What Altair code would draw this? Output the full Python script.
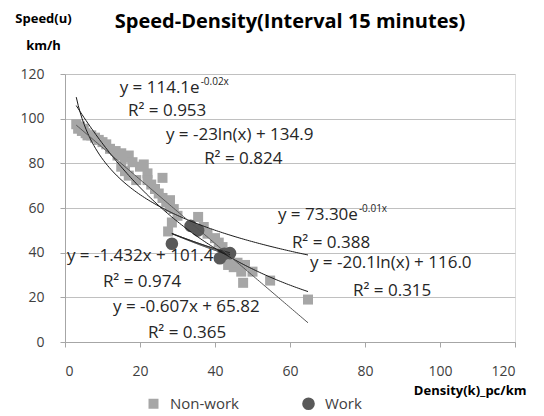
import altair as alt
import pandas as pd
import numpy as np

# ---- data ----
nonwork_density = [3, 3.5, 4, 4.5, 5, 5.5, 6, 7, 8, 9, 10, 11, 12, 13.5, 14, 15, 16, 17,
                   15, 16, 17, 18, 19, 20, 21, 22, 22, 23, 24, 25, 26, 26, 27, 28, 28, 29,
                   27.5, 28.5, 30, 35.5, 37, 38, 40, 41, 42, 43.5, 44, 45, 46, 47, 47.5, 48,
                   50, 54.7, 64.8]
nonwork_speed = [97.5, 95.5, 96.5, 94.5, 95.5, 93.5, 92.5, 92.5, 91.5, 90.5, 89.5, 88.5, 86.5,
                 85.5, 83.5, 84.5, 82.5, 83.5, 78.5, 76.5, 74.5, 80.5, 72.5, 78.5, 79.5, 75.5,
                 72.5, 70.5, 68.5, 66.5, 73.5, 64.5, 62.5, 60.5, 63.5, 59.5, 49.5, 53.5, 56.5,
                 56, 51.5, 48.5, 46.5, 44.5, 42.5, 34.5, 36.5, 33.5, 35.5, 31.5, 26.5, 34.5,
                 31.5, 27.5, 19]
work_density = [28.5, 33.5, 35.5, 41.3, 44, 42.5]
work_speed = [44, 52, 50, 37.5, 39.8, 39.5]

x_ticks = [0, 20, 40, 60, 80, 100, 120]
y_ticks = [0, 20, 40, 60, 80, 100, 120]

# trend lines: exp -> a*exp(b*x); log -> a*ln(x)+b; lin -> a*x+b
fit_series = ["Non-work", "Non-work", "Non-work", "Work", "Work", "Work"]
fit_kind = ["exp", "log", "lin", "exp", "log", "lin"]
fit_a = [114.1, -23.0, -1.432, 73.30, -20.1, -0.607]
fit_b = [-0.025, 134.9, 101.4, -0.0145, 116.0, 65.82]
fit_shade = ["dark", "dark", "mid", "dark", "dark", "dark"]

# equation labels (left-aligned)
label_text = ["R² = 0.953", "y = -23ln(x) + 134.9", "R² = 0.824",
              "R² = 0.388", "y = -20.1ln(x) + 116.0", "R² = 0.315",
              "y = -1.432x + 101.4", "R² = 0.974", "y = -0.607x + 65.82", "R² = 0.365"]
label_x = [16.8, 26.9, 37.1, 60.5, 65.3, 76.8, 0.5, 10.1, 12.8, 22.1]
label_y = [103.4, 92.7, 82.0, 44.3, 35.4, 22.8, 38.5, 26.9, 15.7, 4.0]
# exponential equations: base text ends where the exponent starts
exp_base = ["y = 114.1e", "y = 73.30e"]
exp_sup = ["-0.02x", "-0.01x"]
exp_x = [35.9, 78.1]
exp_y = [113.7, 56.9]

# ---- tables ----
pts = pd.DataFrame({
    "density": nonwork_density + work_density,
    "speed": nonwork_speed + work_speed,
    "series": ["Non-work"] * len(nonwork_density) + ["Work"] * len(work_density),
})

rows = []
for i, (s, k, a, b, shade) in enumerate(zip(fit_series, fit_kind, fit_a, fit_b, fit_shade)):
    xs = nonwork_density if s == "Non-work" else work_density
    grid = np.linspace(min(xs), max(xs), 120)
    if k == "exp":
        ys = a * np.exp(b * grid)
    elif k == "log":
        ys = a * np.log(grid) + b
    else:
        ys = a * grid + b
    for gx, gy in zip(grid, ys):
        rows.append({"fit": i, "shade": shade, "x": float(gx), "y": float(gy)})
fits = pd.DataFrame(rows)

labels = pd.DataFrame({"x": label_x, "y": label_y, "t": label_text})
exps = pd.DataFrame({"x": exp_x, "y": exp_y, "base": exp_base, "sup": exp_sup})

FONT = "Open Sans"
TXT = 17
xscale = alt.Scale(domain=[0, 120], nice=False)
yscale = alt.Scale(domain=[0, 120], nice=False)

xaxis = alt.Axis(values=x_ticks, grid=False, title="Density(k)_pc/km",
                 titleFont=FONT, titleFontSize=13, titleFontWeight="bold", titleColor="#000",
                 titleAnchor="end", titleAlign="right", titleBaseline="middle",
                 titleX=461, titleY=48,
                 labelFont=FONT, labelFontSize=14, labelColor="#404040", labelPadding=17,
                 domainColor="#a6a6a6", tickColor="#a6a6a6", tickSize=5)
yaxis = alt.Axis(values=y_ticks, grid=True, gridColor="#c0c0c0",
                 title=["Speed(u)", "km/h"], titleAngle=0, titleFont=FONT,
                 titleFontSize=13, titleFontWeight="bold", titleColor="#000",
                 titleAlign="center", titleBaseline="top", titleX=-22, titleY=-62,
                 titleLineHeight=27,
                 labelFont=FONT, labelFontSize=14, labelColor="#404040", labelPadding=16,
                 domainColor="#a6a6a6", tickColor="#a6a6a6", tickSize=5)

base_x = alt.X("x:Q", scale=xscale, axis=xaxis)
base_y = alt.Y("y:Q", scale=yscale, axis=yaxis)

points = alt.Chart(pts).mark_point(filled=True, opacity=1).encode(
    x=alt.X("density:Q", scale=xscale, axis=xaxis),
    y=alt.Y("speed:Q", scale=yscale, axis=yaxis),
    color=alt.Color("series:N", scale=alt.Scale(domain=["Non-work", "Work"],
                                                range=["#a6a6a6", "#595959"]),
                    legend=alt.Legend(title=None, orient="none", direction="horizontal",
                                      legendX=81, legendY=322, labelFont=FONT,
                                      labelFontSize=15, labelColor="#404040",
                                      symbolSize=75, columnPadding=61, labelOffset=9)),
    shape=alt.Shape("series:N", scale=alt.Scale(domain=["Non-work", "Work"],
                                                range=["square", "circle"])),
    size=alt.Size("series:N", scale=alt.Scale(domain=["Non-work", "Work"],
                                              range=[100, 160]), legend=None),
    order=alt.Order("series:N"),
)

lines_dark = alt.Chart(fits).transform_filter(alt.datum.shade == "dark").mark_line(
    color="#1a1a1a", strokeWidth=1).encode(x=base_x, y=base_y, detail="fit:N")
lines_mid = alt.Chart(fits).transform_filter(alt.datum.shade == "mid").mark_line(
    color="#555555", strokeWidth=1).encode(x=base_x, y=base_y, detail="fit:N")

text_labels = alt.Chart(labels).mark_text(
    align="left", baseline="middle", font=FONT, fontSize=TXT, color="#262626"
).encode(x=base_x, y=base_y, text="t:N")
exp_base_text = alt.Chart(exps).mark_text(
    align="right", baseline="middle", font=FONT, fontSize=TXT, color="#262626"
).encode(x=base_x, y=base_y, text="base:N")
exp_sup_text = alt.Chart(exps).mark_text(
    align="left", baseline="middle", font=FONT, fontSize=10, color="#262626", dx=1, dy=-6
).encode(x=base_x, y=base_y, text="sup:N")

chart = alt.layer(points, lines_dark, lines_mid, text_labels, exp_base_text,
                  exp_sup_text).properties(
    width=450, height=268,
    title=alt.TitleParams("Speed-Density(Interval 15  minutes)", font=FONT, fontSize=20,
                          fontWeight="bold", color="#000", anchor="middle", dy=24),
    autosize=alt.AutoSizeParams(type="none"),
    padding={"left": 57, "top": 66, "right": 20, "bottom": 80},
).configure_view(stroke=None).configure(background="white")

chart.save("out.html", embed_options={"renderer": "svg", "actions": False})
